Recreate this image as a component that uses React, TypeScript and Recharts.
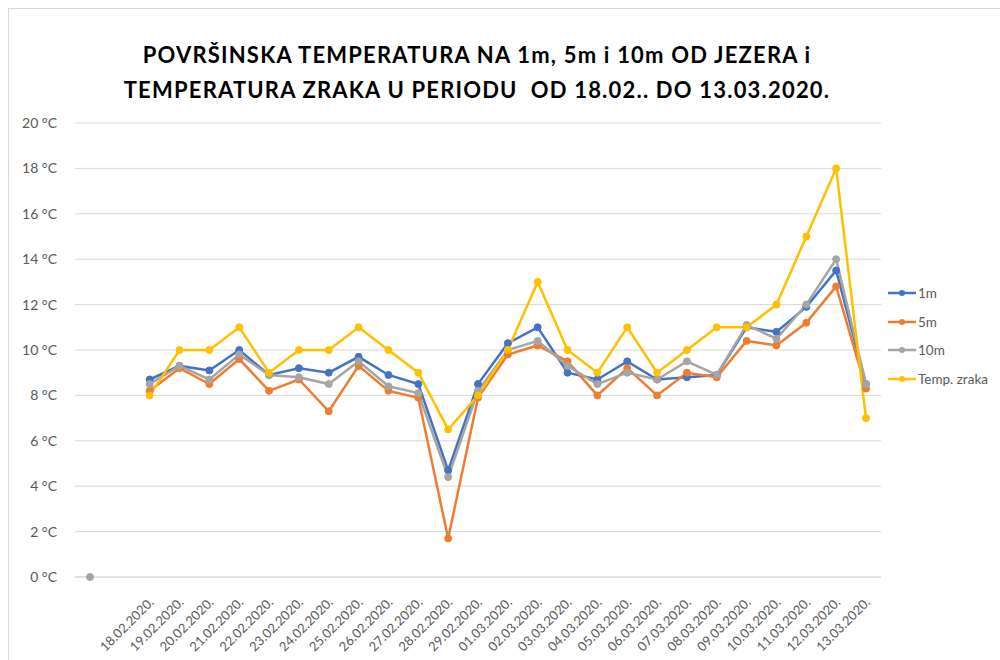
import React from "react";
import { CartesianGrid, Line, LineChart, XAxis, YAxis } from "recharts";

const dates = [
  "", "",
  "18.02.2020.", "19.02.2020.", "20.02.2020.", "21.02.2020.", "22.02.2020.", "23.02.2020.",
  "24.02.2020.", "25.02.2020.", "26.02.2020.", "27.02.2020.", "28.02.2020.", "29.02.2020.",
  "01.03.2020.", "02.03.2020.", "03.03.2020.", "04.03.2020.", "05.03.2020.", "06.03.2020.",
  "07.03.2020.", "08.03.2020.", "09.03.2020.", "10.03.2020.", "11.03.2020.", "12.03.2020.",
  "13.03.2020."
];

const depth1m = [
  null, null,
  8.7, 9.3, 9.1, 10.0, 8.9, 9.2, 9.0, 9.7, 8.9, 8.5, 4.7, 8.5,
  10.3, 11.0, 9.0, 8.7, 9.5, 8.7, 8.8, 8.9, 11.0, 10.8, 11.9, 13.5, 8.5
];
const depth5m = [
  null, null,
  8.2, 9.2, 8.5, 9.6, 8.2, 8.7, 7.3, 9.3, 8.2, 7.9, 1.7, 7.9,
  9.8, 10.2, 9.5, 8.0, 9.2, 8.0, 9.0, 8.8, 10.4, 10.2, 11.2, 12.8, 8.3
];
const depth10m = [
  0, null,
  8.5, 9.3, 8.7, 9.8, 8.9, 8.8, 8.5, 9.5, 8.4, 8.1, 4.4, 8.2,
  10.0, 10.4, 9.3, 8.5, 9.0, 8.7, 9.5, 8.9, 11.1, 10.5, 12.0, 14.0, 8.5
];
const airTemp = [
  null, null,
  8, 10, 10, 11, 9, 10, 10, 11, 10, 9, 6.5, 8,
  10, 13, 10, 9, 11, 9, 10, 11, 11, 12, 15, 18, 7
];

const yTicks = [0, 2, 4, 6, 8, 10, 12, 14, 16, 18, 20];

const series = [
  { key: "d1", name: "1m", color: "#4472C4" },
  { key: "d5", name: "5m", color: "#ED7D31" },
  { key: "d10", name: "10m", color: "#A5A5A5" },
  { key: "air", name: "Temp. zraka", color: "#FFC000" },
];

const data = dates.map((d, i) => ({
  date: d,
  d1: depth1m[i],
  d5: depth5m[i],
  d10: depth10m[i],
  air: airTemp[i],
}));

const FONT = "Lato, 'Open Sans', sans-serif";

function DateTick(props: any) {
  const { x, y, payload } = props;
  return (
    <g transform={`translate(${x},${y})`}>
      <text
        x={5}
        y={26}
        transform="rotate(-45, 5, 26)"
        textAnchor="end"
        fontSize={13}
        fill="#595959"
        fontFamily={FONT}
      >
        {payload.value}
      </text>
    </g>
  );
}

export default function App() {
  return (
    <div style={{ position: "absolute", left: 0, top: 0, width: 1000, height: 660, background: "#fff", fontFamily: FONT }}>
      <div style={{ position: "absolute", left: 8, top: 8, width: 992, height: 652, borderLeft: "1px solid #d9d9d9", borderTop: "1px solid #d9d9d9" }} />
      <div
        style={{
          position: "absolute",
          left: 0,
          top: 37,
          width: 954,
          textAlign: "center",
          fontWeight: 700,
          fontSize: 22,
          letterSpacing: 1.2,
          lineHeight: "35px",
          color: "#000",
        }}
      >
        POVRŠINSKA TEMPERATURA NA 1m, 5m i 10m OD JEZERA i
        <br />
        TEMPERATURA ZRAKA U PERIODU&nbsp; OD 18.02.. DO 13.03.2020.
      </div>
      <LineChart
        width={1000}
        height={660}
        data={data}
        margin={{ top: 123, right: 119, left: 10, bottom: 0 }}
        style={{ position: "absolute", left: 0, top: 0 }}
      >
        <CartesianGrid vertical={false} stroke="#d9d9d9" strokeWidth={1} />
        <XAxis
          dataKey="date"
          interval={0}
          padding={{ left: 15, right: 15 }}
          axisLine={{ stroke: "#d9d9d9" }}
          tickLine={false}
          tickSize={0}
          tickMargin={0}
          tick={<DateTick />}
          height={83}
        />
        <YAxis
          width={65}
          domain={[0, 20]}
          ticks={yTicks}
          axisLine={false}
          tickLine={false}
          tickMargin={12}
          tickFormatter={(v: number) => `${v} °C`}
          tick={{ fill: "#595959", fontSize: 14, fontFamily: FONT }}
        />
        {series.map((s) => (
          <Line
            key={s.key}
            dataKey={s.key}
            name={s.name}
            stroke={s.color}
            strokeWidth={2.5}
            dot={{ r: 3.5, fill: s.color, stroke: s.color, strokeWidth: 1 }}
            activeDot={false}
            connectNulls={false}
            type="linear"
            isAnimationActive={false}
          />
        ))}
      </LineChart>
      <div style={{ position: "absolute", left: 887, top: 279 }}>
        {series.map((s) => (
          <div key={s.key} style={{ display: "flex", alignItems: "center", height: 28.5, fontSize: 13.5, color: "#595959" }}>
            <svg width={30} height={10} style={{ marginRight: 1 }}>
              <line x1={1} y1={5} x2={29} y2={5} stroke={s.color} strokeWidth={2.5} />
              <circle cx={15} cy={5} r={3} fill={s.color} />
            </svg>
            <span>{s.name}</span>
          </div>
        ))}
      </div>
    </div>
  );
}
